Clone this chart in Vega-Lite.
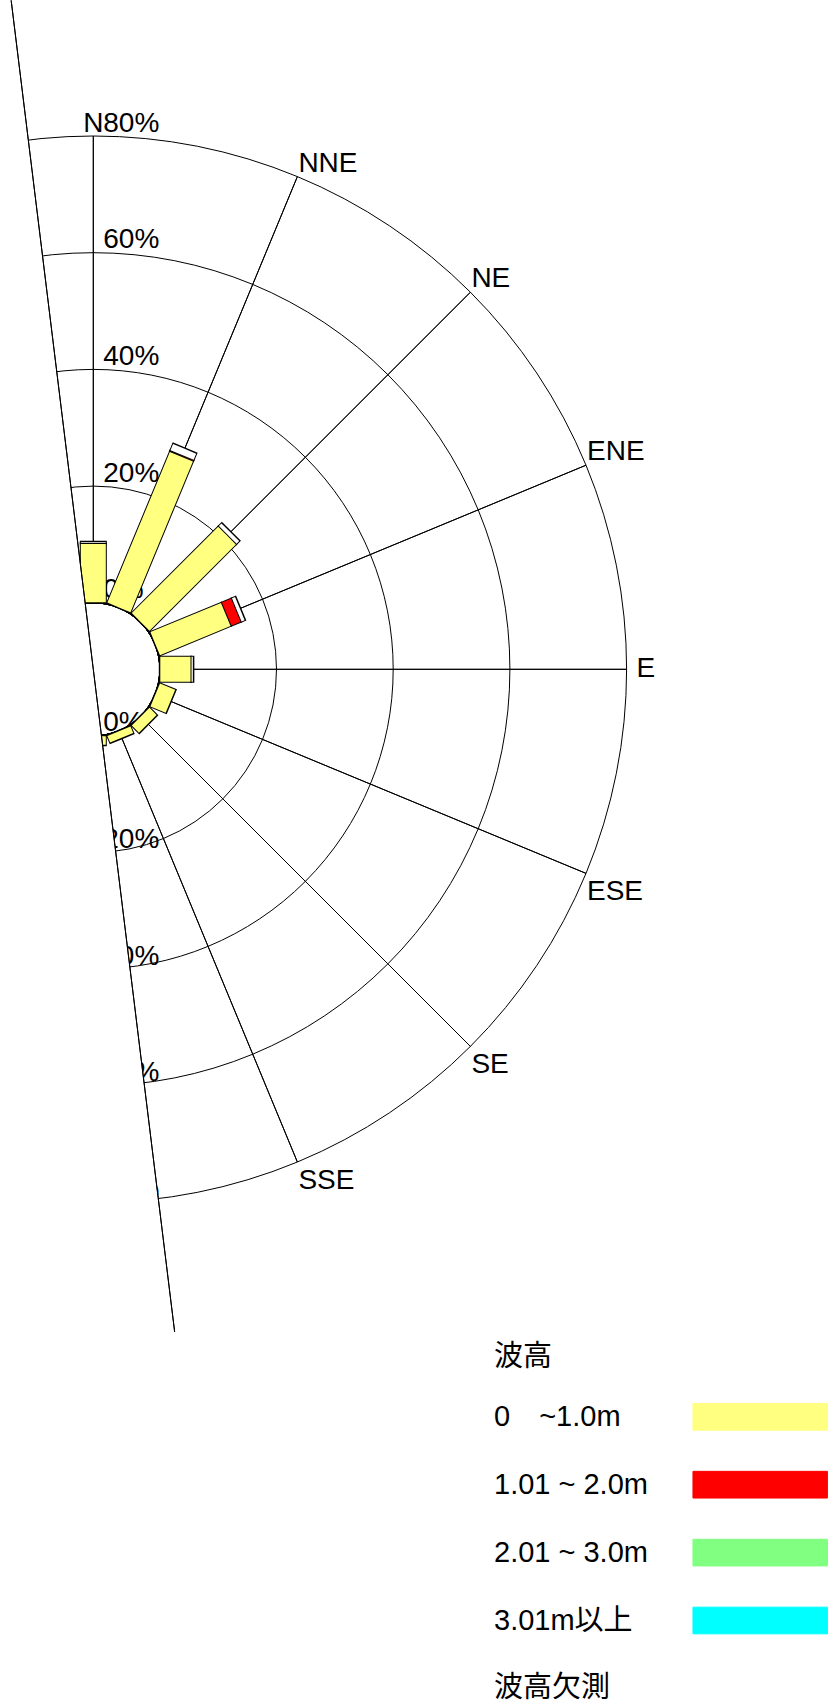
{
  "$schema": "https://vega.github.io/schema/vega-lite/v6.json",
  "width": 186.6,
  "height": 1338.6,
  "autosize": {"type": "none"},
  "padding": {"left": 0, "top": 0, "right": 645.4, "bottom": 364.4},
  "background": "white",
  "config": {"view": {"stroke": null}},
  "datasets": {
    "bars": [
      {"dir": "N", "deg": 0, "cat": "0　~1.0m", "order": 0, "pct": 10.15},
      {"dir": "N", "deg": 0, "cat": "波高欠測", "order": 4, "pct": 0.32},
      {"dir": "NNE", "deg": 22.5, "cat": "0　~1.0m", "order": 0, "pct": 28.13},
      {"dir": "NNE", "deg": 22.5, "cat": "1.01 ~ 2.0m", "order": 1, "pct": 0.15},
      {"dir": "NNE", "deg": 22.5, "cat": "波高欠測", "order": 4, "pct": 1.3},
      {"dir": "NE", "deg": 45, "cat": "0　~1.0m", "order": 0, "pct": 21.1},
      {"dir": "NE", "deg": 45, "cat": "波高欠測", "order": 4, "pct": 0.8},
      {"dir": "ENE", "deg": 67.5, "cat": "0　~1.0m", "order": 0, "pct": 13.26},
      {"dir": "ENE", "deg": 67.5, "cat": "1.01 ~ 2.0m", "order": 1, "pct": 1.87},
      {"dir": "ENE", "deg": 67.5, "cat": "波高欠測", "order": 4, "pct": 0.74},
      {"dir": "E", "deg": 90, "cat": "0　~1.0m", "order": 0, "pct": 5.35},
      {"dir": "E", "deg": 90, "cat": "波高欠測", "order": 4, "pct": 0.4},
      {"dir": "ESE", "deg": 112.5, "cat": "0　~1.0m", "order": 0, "pct": 3.0},
      {"dir": "SE", "deg": 135, "cat": "0　~1.0m", "order": 0, "pct": 1.9},
      {"dir": "SSE", "deg": 157.5, "cat": "0　~1.0m", "order": 0, "pct": 1.4},
      {"dir": "S", "deg": 180, "cat": "0　~1.0m", "order": 0, "pct": 1.6}
    ],
    "rings": [{"pct": 0}, {"pct": 20}, {"pct": 40}, {"pct": 60}, {"pct": 80}],
    "dirs": [
      {"dir": "N", "deg": 0},
      {"dir": "NNE", "deg": 22.5},
      {"dir": "NE", "deg": 45},
      {"dir": "ENE", "deg": 67.5},
      {"dir": "E", "deg": 90},
      {"dir": "ESE", "deg": 112.5},
      {"dir": "SE", "deg": 135},
      {"dir": "SSE", "deg": 157.5}
    ],
    "pctlabels": [
      {"deg": 0, "pct": 0, "label": "0%"},
      {"deg": 0, "pct": 20, "label": "20%"},
      {"deg": 0, "pct": 40, "label": "40%"},
      {"deg": 0, "pct": 60, "label": "60%"},
      {"deg": 0, "pct": 80, "label": "80%"},
      {"deg": 180, "pct": 0, "label": "0%"},
      {"deg": 180, "pct": 20, "label": "20%"},
      {"deg": 180, "pct": 40, "label": "40%"},
      {"deg": 180, "pct": 60, "label": "60%"},
      {"deg": 180, "pct": 80, "label": "80%"}
    ]
  },
  "layer": [
    {
      "data": {"name": "rings"},
      "mark": {"type": "arc", "filled": false, "stroke": "black", "strokeWidth": 1, "theta": 0, "theta2": 6.2832},
      "encoding": {
        "radius": {"field": "pct", "type": "quantitative", "stack": null, "scale": {"type": "linear", "domain": [0, 80], "range": [66.5, 533.3], "zero": false}}
      }
    },
    {
      "data": {"name": "dirs"},
      "mark": {"type": "arc", "filled": false, "stroke": "black", "strokeWidth": 1},
      "encoding": {
        "theta": {"field": "deg", "type": "quantitative", "stack": null, "scale": {"domain": [0, 360], "range": [0, 6.283185307179586]}},
        "theta2": {"field": "deg"},
        "radius": {"datum": 80, "type": "quantitative", "stack": null, "scale": {"type": "linear", "domain": [0, 80], "range": [66.5, 533.3], "zero": false}},
        "radius2": {"datum": 0}
      }
    },
    {
      "data": {"name": "pctlabels"},
      "mark": {"type": "text", "font": "Liberation Sans", "fontSize": 28, "align": "left", "baseline": "alphabetic", "dx": 10, "dy": -4.5, "color": "black"},
      "encoding": {
        "theta": {"field": "deg", "type": "quantitative", "stack": null, "scale": {"domain": [0, 360], "range": [0, 6.283185307179586]}},
        "radius": {"field": "pct", "type": "quantitative", "stack": null, "scale": {"type": "linear", "domain": [0, 80], "range": [66.5, 533.3], "zero": false}},
        "text": {"field": "label"}
      }
    },
    {
      "data": {"name": "bars"},
      "transform": [{"stack": "pct", "groupby": ["dir"], "sort": [{"field": "order"}], "as": ["r1", "r2"]}],
      "mark": {"type": "arc", "stroke": "black", "strokeWidth": 1},
      "encoding": {
        "theta": {"field": "deg", "type": "quantitative", "stack": null, "scale": {"domain": [0, 360], "range": [0, 6.283185307179586]}},
        "theta2": {"field": "deg"},
        "radius": {"field": "r2", "type": "quantitative", "stack": null, "scale": {"type": "linear", "domain": [0, 80], "range": [66.5, 533.3], "zero": false}},
        "radius2": {"field": "r1"},
        "fill": {"field": "cat", "type": "nominal",
          "scale": {"domain": ["0　~1.0m", "1.01 ~ 2.0m", "2.01 ~ 3.0m", "3.01m以上", "波高欠測"], "range": ["#ffff80", "#ff0000", "#80ff80", "#00ffff", "#ffffff"]},
          "legend": {
            "title": "波高", "orient": "none", "legendX": 494, "legendY": 1343, "padding": 0,
            "titleFont": "Liberation Sans, Noto Sans CJK JP", "titleFontSize": 29, "titleFontWeight": "normal", "titleColor": "black", "titlePadding": 17.3,
            "labelFont": "Liberation Sans, Noto Sans CJK JP", "labelFontSize": 29, "labelColor": "black", "labelLimit": 0,
            "symbolType": "M-2.5,-0.4963H2.5V0.4963H-2.5Z", "symbolSize": 2894, "symbolStrokeColor": "black", "symbolStrokeWidth": 1,
            "symbolOffset": 238.7, "labelOffset": -293.7, "rowPadding": 24.9
          }}
      }
    },
    {
      "data": {"name": "bars"},
      "transform": [{"stack": "pct", "groupby": ["dir"], "sort": [{"field": "order"}], "as": ["r1", "r2"]}],
      "mark": {"type": "arc", "filled": false, "stroke": "black", "strokeWidth": 27, "strokeJoin": "bevel", "strokeCap": "butt", "radiusOffset": 1, "radius2Offset": -1},
      "encoding": {
        "theta": {"field": "deg", "type": "quantitative", "stack": null, "scale": {"domain": [0, 360], "range": [0, 6.283185307179586]}},
        "theta2": {"field": "deg"},
        "radius": {"field": "r2", "type": "quantitative", "stack": null, "scale": {"type": "linear", "domain": [0, 80], "range": [66.5, 533.3], "zero": false}},
        "radius2": {"field": "r1"}
      }
    },
    {
      "data": {"name": "bars"},
      "transform": [{"stack": "pct", "groupby": ["dir"], "sort": [{"field": "order"}], "as": ["r1", "r2"]}],
      "mark": {"type": "arc", "filled": false, "strokeWidth": 25, "strokeJoin": "bevel", "strokeCap": "butt", "radiusOffset": -0.5, "radius2Offset": 0.5},
      "encoding": {
        "theta": {"field": "deg", "type": "quantitative", "stack": null, "scale": {"domain": [0, 360], "range": [0, 6.283185307179586]}},
        "theta2": {"field": "deg"},
        "radius": {"field": "r2", "type": "quantitative", "stack": null, "scale": {"type": "linear", "domain": [0, 80], "range": [66.5, 533.3], "zero": false}},
        "radius2": {"field": "r1"},
        "stroke": {"field": "cat", "type": "nominal", "legend": null,
          "scale": {"domain": ["0　~1.0m", "1.01 ~ 2.0m", "2.01 ~ 3.0m", "3.01m以上", "波高欠測"], "range": ["#ffff80", "#ff0000", "#80ff80", "#00ffff", "#ffffff"]}}
      }
    },
    {
      "data": {"values": [{}]},
      "mark": {"type": "arc", "fill": "white", "strokeWidth": 0, "theta": 3.01942, "theta2": 6.16101, "radius2": 0},
      "encoding": {
        "radius": {"datum": 112, "type": "quantitative", "stack": null, "scale": {"type": "linear", "domain": [0, 80], "range": [66.5, 533.3], "zero": false}}
      }
    },
    {
      "data": {"values": [{}]},
      "mark": {"type": "arc", "filled": false, "stroke": "black", "strokeWidth": 1, "theta": 6.16101, "theta2": 6.16101, "radius2": 0},
      "encoding": {
        "radius": {"datum": 104.1, "type": "quantitative", "stack": null, "scale": {"type": "linear", "domain": [0, 80], "range": [66.5, 533.3], "zero": false}}
      }
    },
    {
      "data": {"values": [{}]},
      "mark": {"type": "arc", "filled": false, "stroke": "black", "strokeWidth": 1, "theta": 3.01942, "theta2": 3.01942, "radius2": 0},
      "encoding": {
        "radius": {"datum": 103, "type": "quantitative", "stack": null, "scale": {"type": "linear", "domain": [0, 80], "range": [66.5, 533.3], "zero": false}}
      }
    },
    {
      "data": {"name": "dirs"},
      "transform": [{"filter": "datum.deg == 0"}],
      "mark": {"type": "text", "font": "Liberation Sans", "fontSize": 28, "align": "center", "baseline": "alphabetic", "dy": -4, "color": "black"},
      "encoding": {
        "theta": {"field": "deg", "type": "quantitative", "stack": null, "scale": {"domain": [0, 360], "range": [0, 6.283185307179586]}},
        "radius": {"datum": 80, "type": "quantitative", "stack": null, "scale": {"type": "linear", "domain": [0, 80], "range": [66.5, 533.3], "zero": false}},
        "text": {"field": "dir"}
      }
    },
    {
      "data": {"name": "dirs"},
      "transform": [{"filter": "datum.deg > 0 && datum.deg < 90"}],
      "mark": {"type": "text", "font": "Liberation Sans", "fontSize": 28, "align": "left", "baseline": "alphabetic", "dx": 1, "dy": -5, "color": "black"},
      "encoding": {
        "theta": {"field": "deg", "type": "quantitative", "stack": null, "scale": {"domain": [0, 360], "range": [0, 6.283185307179586]}},
        "radius": {"datum": 80, "type": "quantitative", "stack": null, "scale": {"type": "linear", "domain": [0, 80], "range": [66.5, 533.3], "zero": false}},
        "text": {"field": "dir"}
      }
    },
    {
      "data": {"name": "dirs"},
      "transform": [{"filter": "datum.deg == 90"}],
      "mark": {"type": "text", "font": "Liberation Sans", "fontSize": 28, "align": "left", "baseline": "middle", "dx": 10, "color": "black"},
      "encoding": {
        "theta": {"field": "deg", "type": "quantitative", "stack": null, "scale": {"domain": [0, 360], "range": [0, 6.283185307179586]}},
        "radius": {"datum": 80, "type": "quantitative", "stack": null, "scale": {"type": "linear", "domain": [0, 80], "range": [66.5, 533.3], "zero": false}},
        "text": {"field": "dir"}
      }
    },
    {
      "data": {"name": "dirs"},
      "transform": [{"filter": "datum.deg > 90"}],
      "mark": {"type": "text", "font": "Liberation Sans", "fontSize": 28, "align": "left", "baseline": "top", "dx": 1, "dy": 5, "color": "black"},
      "encoding": {
        "theta": {"field": "deg", "type": "quantitative", "stack": null, "scale": {"domain": [0, 360], "range": [0, 6.283185307179586]}},
        "radius": {"datum": 80, "type": "quantitative", "stack": null, "scale": {"type": "linear", "domain": [0, 80], "range": [66.5, 533.3], "zero": false}},
        "text": {"field": "dir"}
      }
    }
  ]
}
